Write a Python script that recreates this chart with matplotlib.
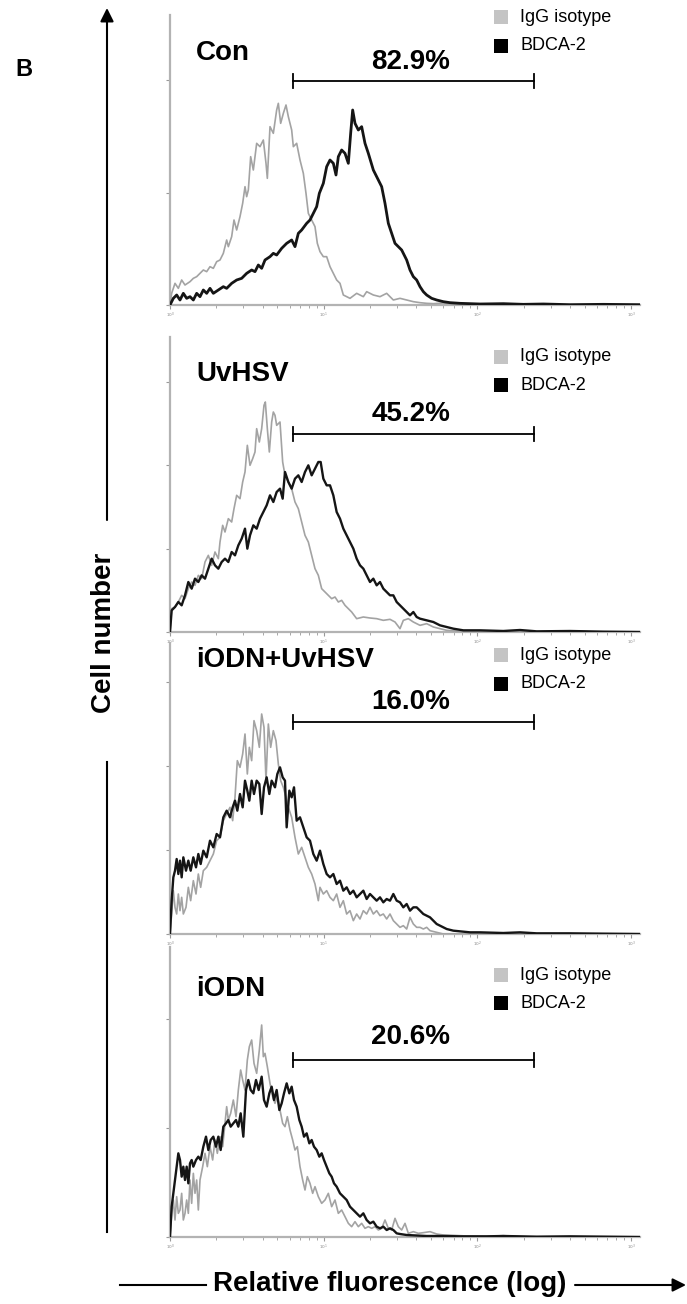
import numpy as np
import matplotlib
matplotlib.use("Agg")
import matplotlib.pyplot as plt
from matplotlib.lines import Line2D
from matplotlib.patches import FancyArrowPatch, Rectangle
from matplotlib.ticker import LogLocator, NullFormatter

plt.rcParams['font.family'] = ['Liberation Sans', 'DejaVu Sans']

W, H = 687, 1304

# ---- data: histogram channel (461 channels per decade) and cell counts ----
CH_PER_DECADE = 461.0

panel_names = ["Con", "UvHSV", "iODN+UvHSV", "iODN"]
percent_labels = ["82.9%", "45.2%", "16.0%", "20.6%"]
gate = (6.3, 234.0)  # marker bracket, relative fluorescence

con_igg_ch = [0, 5, 15, 25, 35, 45, 60, 70, 80, 90, 100, 110, 120, 130, 140, 150, 160, 170, 175, 185,
              192, 200, 210, 218, 225, 230, 235, 242, 250, 260, 270, 280, 288, 292, 300, 310, 320, 325, 332, 340,
              348, 355, 365, 370, 380, 390, 400, 408, 415, 425, 435, 442, 450, 460, 470, 480, 490, 500, 510, 520,
              540, 560, 580, 590, 610, 630, 650, 670, 690, 710, 730, 750, 770, 790, 820, 850, 880, 920, 1410]
con_igg_n = [0, 35, 65, 50, 75, 60, 70, 80, 85, 95, 105, 100, 115, 110, 130, 135, 155, 195, 175, 205,
             255, 225, 265, 305, 355, 325, 345, 445, 405, 485, 475, 495, 425, 380, 535, 515, 585, 605, 545, 575,
             600, 565, 525, 475, 485, 435, 395, 335, 275, 255, 235, 185, 160, 145, 145, 115, 95, 75, 65, 30,
             20, 35, 25, 40, 30, 25, 35, 15, 20, 15, 10, 7, 5, 4, 6, 3, 2, 0, 0]

con_bdca_ch = [0, 10, 20, 30, 40, 50, 60, 70, 80, 90, 100, 110, 120, 130, 145, 160, 170, 185, 200, 215,
               230, 245, 255, 265, 275, 285, 300, 310, 320, 335, 350, 365, 375, 385, 395, 410, 420, 430, 440, 448,
               460, 470, 480, 490, 498, 505, 515, 525, 535, 542, 548, 555, 565, 575, 585, 595, 610, 625, 635, 645,
               655, 665, 675, 685, 695, 710, 720, 730, 740, 750, 760, 770, 785, 800, 820, 840, 870, 930, 1000, 1060,
               1120, 1200, 1300, 1410]
con_bdca_n = [0, 20, 30, 15, 35, 20, 25, 15, 35, 25, 45, 35, 50, 35, 45, 55, 50, 65, 75, 80,
              95, 105, 100, 120, 110, 135, 145, 155, 150, 170, 185, 195, 175, 215, 225, 245, 255, 275, 295, 335,
              365, 415, 435, 425, 390, 445, 465, 455, 425, 515, 585, 545, 525, 535, 485, 455, 405, 375, 355, 305,
              245, 215, 185, 175, 165, 135, 105, 85, 75, 55, 40, 30, 20, 15, 10, 7, 5, 3, 4, 2,
              3, 1, 2, 1]

uv_igg_ch = [0, 5, 15, 25, 35, 45, 55, 65, 75, 85, 95, 105, 115, 125, 135, 145, 150, 158, 165, 175,
             185, 192, 200, 210, 218, 225, 232, 240, 248, 255, 260, 268, 275, 282, 286, 292, 298, 305, 310, 315,
             320, 330, 338, 345, 355, 365, 375, 385, 395, 405, 415, 425, 435, 445, 455, 465, 475, 485, 495, 505,
             515, 525, 535, 545, 560, 580, 600, 620, 640, 660, 675, 690, 700, 715, 730, 750, 770, 790, 810, 830,
             860, 900, 1410]
uv_igg_n = [0, 70, 75, 90, 110, 100, 130, 150, 140, 170, 160, 210, 230, 200, 240, 220, 270, 320, 300, 340,
            330, 370, 410, 400, 450, 480, 560, 500, 520, 540, 610, 570, 610, 680, 690, 610, 540, 630, 660, 650,
            620, 630, 510, 470, 450, 430, 390, 370, 330, 290, 270, 230, 190, 170, 130, 120, 110, 100, 105, 90,
            95, 80, 70, 60, 40, 45, 42, 40, 35, 38, 30, 10, 35, 40, 30, 20, 25, 15, 10, 5,
            3, 0, 0]

uv_bdca_ch = [0, 5, 15, 25, 35, 45, 55, 65, 75, 85, 95, 105, 115, 125, 135, 145, 155, 165, 175, 185,
              195, 205, 215, 225, 232, 240, 250, 260, 270, 280, 290, 300, 310, 320, 330, 338, 345, 355, 365, 375,
              385, 395, 405, 415, 425, 435, 445, 452, 460, 470, 480, 490, 500, 510, 520, 530, 540, 550, 560, 570,
              580, 590, 600, 610, 620, 630, 640, 650, 660, 670, 680, 690, 700, 710, 720, 730, 740, 750, 770, 790,
              810, 830, 850, 880, 930, 1000, 1050, 1100, 1200, 1300, 1410]
uv_bdca_n = [0, 65, 75, 90, 80, 110, 150, 130, 160, 150, 170, 160, 190, 220, 200, 190, 210, 220, 210, 240,
             230, 260, 280, 310, 250, 290, 320, 310, 340, 360, 380, 410, 390, 420, 430, 400, 480, 450, 430, 460,
             470, 450, 480, 500, 470, 490, 510, 510, 460, 440, 440, 410, 360, 340, 310, 290, 270, 250, 220, 200,
             190, 170, 150, 160, 140, 150, 130, 120, 110, 110, 90, 80, 70, 60, 50, 60, 45, 40, 35, 30,
             20, 15, 10, 5, 5, 3, 6, 2, 3, 1, 0]

iuv_igg_ch = [0, 5, 10, 15, 20, 25, 30, 35, 40, 48, 55, 62, 70, 78, 85, 92, 100, 110, 120, 130,
              140, 150, 160, 170, 180, 188, 195, 202, 210, 218, 225, 232, 238, 245, 252, 260, 268, 275, 282, 288,
              295, 302, 310, 318, 325, 332, 340, 348, 355, 365, 375, 385, 395, 405, 415, 425, 435, 445, 450, 460,
              470, 480, 490, 500, 510, 520, 530, 540, 550, 560, 570, 580, 590, 600, 610, 620, 630, 640, 650, 660,
              670, 680, 690, 700, 710, 720, 730, 740, 750, 760, 770, 780, 800, 820, 1410]
iuv_igg_n = [0, 60, 130, 80, 60, 120, 70, 110, 60, 80, 140, 100, 160, 120, 180, 140, 190, 200, 220, 240,
             280, 290, 340, 360, 380, 340, 410, 520, 500, 540, 600, 480, 560, 520, 640, 610, 560, 660, 620, 460,
             630, 560, 610, 580, 510, 460, 440, 410, 380, 350, 290, 240, 260, 230, 200, 180, 150, 100, 140, 120,
             130, 110, 100, 120, 80, 100, 60, 70, 40, 60, 45, 70, 60, 80, 60, 70, 55, 60, 45, 60,
             40, 30, 20, 25, 15, 50, 30, 20, 20, 15, 20, 10, 5, 0, 0]

iuv_bdca_ch = [0, 5, 10, 15, 20, 25, 30, 35, 40, 48, 55, 62, 70, 78, 85, 92, 100, 110, 120, 130,
               140, 150, 160, 170, 180, 188, 195, 202, 210, 218, 225, 232, 238, 245, 252, 260, 268, 275, 282, 290,
               298, 305, 315, 322, 330, 338, 345, 350, 358, 365, 372, 380, 390, 400, 410, 420, 430, 440, 450, 460,
               470, 480, 490, 500, 510, 520, 530, 540, 550, 560, 570, 580, 590, 600, 610, 620, 630, 640, 650, 660,
               670, 680, 690, 700, 710, 720, 730, 740, 750, 760, 770, 780, 790, 800, 810, 820, 830, 850, 870, 900,
               930, 1000, 1050, 1100, 1200, 1300, 1410]
iuv_bdca_n = [0, 100, 170, 190, 225, 180, 220, 170, 230, 190, 220, 190, 230, 200, 240, 210, 250, 230, 280, 260,
              300, 290, 350, 370, 350, 380, 400, 370, 420, 380, 460, 430, 400, 460, 420, 460, 450, 360, 440, 470,
              420, 460, 440, 480, 500, 470, 460, 320, 430, 410, 440, 340, 350, 320, 290, 280, 240, 220, 250, 210,
              180, 170, 180, 150, 160, 130, 140, 120, 130, 110, 120, 130, 105, 120, 110, 100, 110, 95, 105, 100,
              120, 100, 95, 80, 90, 70, 80, 80, 70, 60, 55, 50, 40, 30, 25, 20, 15, 10, 8, 5,
              5, 3, 5, 2, 2, 1, 0]

iodn_igg_ch = [0, 5, 10, 15, 20, 25, 30, 35, 40, 45, 50, 55, 60, 65, 70, 75, 80, 85, 90, 98,
               105, 112, 120, 128, 135, 142, 150, 158, 165, 170, 175, 182, 190, 198, 205, 212, 218, 225, 232, 238,
               245, 252, 260, 268, 275, 280, 285, 292, 300, 308, 315, 322, 330, 338, 345, 352, 360, 368, 375, 382,
               390, 398, 405, 412, 420, 428, 435, 445, 455, 465, 475, 485, 495, 505, 515, 525, 535, 545, 555, 565,
               575, 585, 595, 605, 615, 625, 635, 645, 655, 665, 675, 685, 695, 705, 715, 730, 745, 760, 780, 800,
               820, 850, 890, 950, 1000, 1050, 1100, 1410]
iodn_igg_n = [0, 71, 111, 51, 121, 71, 81, 131, 51, 71, 111, 71, 171, 101, 191, 131, 171, 81, 171, 211,
              251, 211, 271, 231, 291, 251, 301, 271, 341, 391, 351, 371, 411, 361, 441, 501, 471, 441, 531, 571,
              591, 521, 491, 561, 636, 541, 551, 511, 461, 421, 401, 421, 381, 341, 331, 361, 321, 291, 261, 271,
              211, 171, 141, 181, 161, 131, 151, 121, 101, 111, 131, 91, 111, 71, 81, 61, 41, 31, 46, 31,
              41, 26, 31, 26, 31, 21, 26, 51, 26, 21, 56, 31, 21, 41, 11, 16, 11, 13, 16, 9,
              6, 5, 3, 2, 4, 1, 0, 0]

iodn_bdca_ch = [0, 5, 10, 15, 20, 25, 30, 35, 40, 45, 50, 55, 60, 65, 70, 78, 85, 92, 100, 108,
                115, 122, 130, 138, 145, 152, 160, 168, 175, 182, 190, 198, 205, 212, 220, 228, 235, 242, 250, 258,
                266, 275, 282, 290, 298, 305, 312, 320, 328, 335, 342, 350, 358, 365, 372, 380, 388, 395, 402, 410,
                418, 425, 432, 440, 448, 455, 462, 470, 478, 485, 492, 500, 510, 520, 530, 540, 550, 560, 570, 580,
                590, 600, 610, 620, 630, 640, 650, 660, 670, 680, 690, 710, 730, 770, 820, 870, 950, 1000, 1100, 1200,
                1410]
iodn_bdca_n = [0, 91, 131, 171, 211, 251, 231, 181, 211, 171, 211, 161, 221, 231, 211, 231, 241, 231, 271, 301,
               261, 291, 301, 271, 301, 261, 331, 341, 351, 331, 341, 351, 331, 371, 301, 441, 471, 441, 431, 471,
               441, 481, 411, 391, 431, 451, 411, 441, 381, 401, 431, 461, 431, 451, 411, 391, 351, 331, 301, 311,
               281, 291, 271, 261, 241, 251, 231, 211, 191, 181, 161, 151, 131, 121, 111, 91, 81, 71, 61, 71,
               51, 41, 46, 31, 26, 31, 21, 26, 21, 11, 9, 6, 5, 3, 3, 2, 2, 3, 1, 2,
               0]

igg_series = [(con_igg_ch, con_igg_n), (uv_igg_ch, uv_igg_n), (iuv_igg_ch, iuv_igg_n), (iodn_igg_ch, iodn_igg_n)]
bdca_series = [(con_bdca_ch, con_bdca_n), (uv_bdca_ch, uv_bdca_n), (iuv_bdca_ch, iuv_bdca_n), (iodn_bdca_ch, iodn_bdca_n)]
y_ticks = [[0, 337, 675], [0, 250, 500, 750], [0, 252, 505, 757], [0, 327, 653]]

# ---- layout (pixels of the 687x1304 picture) ----
panel_px = [(15, 305), (337, 632), (643, 934), (947, 1237)]   # top, baseline
x_left_px, x_right_px = 170, 640
name_y_px = [53, 374, 660, 989]
pct_y_px = [62, 414, 702, 1037]
bracket_y_px = [81, 434, 722, 1060]
legend_y_px = [(17, 46), (357, 385), (655, 684), (975, 1003)]
bdca_lw = [2.0, 1.7, 1.7, 1.7]

IGG_COLOR = '#a3a3a3'
IGG_PATCH = '#c4c4c4'
BDCA_COLOR = '#151515'
AXIS_COLOR = '#b3b3b3'


def fx(px):
    return px / W


def fy(py):
    return 1 - py / H


fig = plt.figure(figsize=(W / 100, H / 100), dpi=100)
xmax = 10 ** (1410 / CH_PER_DECADE)

for i, (top, base) in enumerate(panel_px):
    ax = fig.add_axes([fx(x_left_px), fy(base), (x_right_px - x_left_px) / W, (base - top) / H])
    ax.set_xscale('log')
    ax.set_xlim(1, xmax)
    ax.set_ylim(0, 3 * (base - top))

    ch, n = igg_series[i]
    ax.plot(10 ** (np.array(ch) / CH_PER_DECADE), n, color=IGG_COLOR, lw=1.2, zorder=3)
    ch, n = bdca_series[i]
    ax.plot(10 ** (np.array(ch) / CH_PER_DECADE), n, color=BDCA_COLOR, lw=bdca_lw[i], zorder=4)

    for s in ['top', 'right']:
        ax.spines[s].set_visible(False)
    for s in ['left', 'bottom']:
        ax.spines[s].set_color(AXIS_COLOR)
        ax.spines[s].set_linewidth(1.6)
    ax.set_yticks(y_ticks[i])
    ax.set_yticklabels([])
    ax.set_xticks([1, 10, 100, 1000])
    ax.set_xticklabels([r'$10^0$', r'$10^1$', r'$10^2$', r'$10^3$'], fontsize=3, color='#888888')
    ax.xaxis.set_minor_locator(LogLocator(base=10, subs=np.arange(2, 10)))
    ax.xaxis.set_minor_formatter(NullFormatter())
    ax.tick_params(axis='both', which='major', length=3, width=0.8, color='#999999', pad=1)
    ax.tick_params(axis='x', which='minor', length=2, width=0.6, color='#999999')

    # panel name, gate bracket and percentage
    fig.text(fx(196), fy(name_y_px[i]), panel_names[i], fontsize=20, fontweight='bold',
             ha='left', va='center')
    fig.text(fx(411), fy(pct_y_px[i]), percent_labels[i], fontsize=20, fontweight='bold',
             ha='center', va='center')
    yb = (base - bracket_y_px[i]) / (base - top)
    tr = ax.get_xaxis_transform()
    ax.plot(gate, [yb, yb], color='black', lw=1.3, transform=tr, clip_on=False)
    for g in gate:
        ax.plot([g, g], [yb - 0.025, yb + 0.025], color='black', lw=1.3, transform=tr, clip_on=False)

    # legend
    y_igg, y_bdca = legend_y_px[i]
    fig.add_artist(Rectangle((fx(494), fy(y_igg + 7)), 14 / W, 14 / H, transform=fig.transFigure,
                             color=IGG_PATCH, lw=0))
    fig.add_artist(Rectangle((fx(494), fy(y_bdca + 7)), 14 / W, 14 / H, transform=fig.transFigure,
                             color='black', lw=0))
    fig.text(fx(520), fy(y_igg), 'IgG isotype', fontsize=13, ha='left', va='center')
    fig.text(fx(520), fy(y_bdca), 'BDCA-2', fontsize=13, ha='left', va='center')

# panel letter
fig.text(fx(24), fy(69), 'B', fontsize=17, fontweight='bold', ha='center', va='center')

# y arrow with "Cell number"
fig.add_artist(Line2D([fx(107), fx(107)], [fy(1232), fy(762)], color='black', lw=1.5))
fig.add_artist(FancyArrowPatch((fx(107), fy(520)), (fx(107), fy(8)), transform=fig.transFigure,
                               arrowstyle='-|>', mutation_scale=20, lw=1.5, color='black',
                               shrinkA=0, shrinkB=0))
fig.text(fx(104), fy(633), 'Cell number', fontsize=20, fontweight='bold', rotation=90,
         ha='center', va='center')

# x arrow with "Relative fluorescence (log)"
fig.add_artist(Line2D([fx(120), fx(206)], [fy(1285), fy(1285)], color='black', lw=1.5))
fig.add_artist(FancyArrowPatch((fx(575), fy(1285)), (fx(686), fy(1285)), transform=fig.transFigure,
                               arrowstyle='-|>', mutation_scale=20, lw=1.5, color='black',
                               shrinkA=0, shrinkB=0))
fig.text(fx(390), fy(1284), 'Relative fluorescence (log)', fontsize=20, fontweight='bold',
         ha='center', va='center')

fig.savefig('out.png', dpi=100, facecolor='white')
